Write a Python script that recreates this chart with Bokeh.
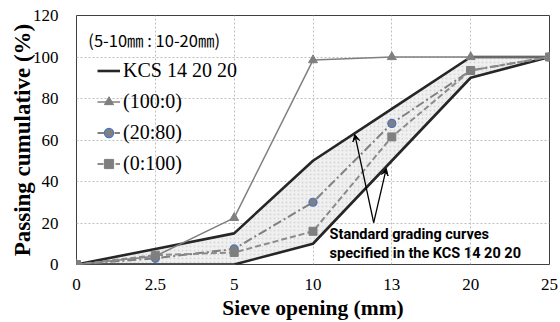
from bokeh.plotting import figure
from bokeh.models import Range1d, FixedTicker, Legend, LegendItem, Label, Arrow, VeeHead
from bokeh.embed import file_html
from bokeh.resources import INLINE

sieve = ["0", "2.5", "5", "10", "13", "20", "25"]
kcs_upper = [0, 7.5, 15, 50, 75, 100, 100]
kcs_lower = [0, 0, 0, 10, 50, 90, 100]
r100_0 = [0, 4, 22.5, 98.5, 100, 100, 100]
r20_80 = [0, 3, 7.5, 30, 68, 93.5, 100]
r0_100 = [0, 4.5, 5.8, 16, 61.5, 93.5, 100]
y_ticks = [0, 20, 40, 60, 80, 100, 120]

x = list(range(len(sieve)))

p = figure(width=560, height=322, output_backend="svg", toolbar_location=None,
           x_range=Range1d(0, len(sieve) - 1), y_range=Range1d(0, 120),
           min_border_left=76, min_border_right=11, min_border_top=15, min_border_bottom=57)

p.background_fill_color = "white"
p.outline_line_color = "#404040"
p.outline_line_width = 1

for ax in (p.xaxis[0], p.yaxis[0]):
    ax.axis_line_color = None
    ax.major_tick_line_color = None
    ax.minor_tick_line_color = None
    ax.major_label_text_font = "Liberation Serif"
    ax.major_label_text_font_size = "17px"
    ax.major_label_text_color = "black"
    ax.axis_label_text_font = "Liberation Serif"
    ax.axis_label_text_font_style = "bold"
    ax.axis_label_text_color = "black"

p.xaxis.ticker = FixedTicker(ticks=x)
p.xaxis.major_label_overrides = {i: s for i, s in zip(x, sieve)}
p.yaxis.ticker = FixedTicker(ticks=y_ticks)
p.xaxis.axis_label = "Sieve opening (mm)"
p.yaxis.axis_label = "Passing cumulative (%)"
p.xaxis.axis_label_text_font_size = "21.5px"
p.yaxis.axis_label_text_font_size = "23px"
p.xaxis.major_label_standoff = 8
p.yaxis.major_label_standoff = 12
p.xaxis.axis_label_standoff = 3
p.yaxis.axis_label_standoff = -5

for g in (p.xgrid[0], p.ygrid[0]):
    g.grid_line_color = "#bfbfbf"
    g.grid_line_dash = "2 2"
    g.grid_line_width = 1

# shaded band between standard curves
p.varea(x=x, y1=kcs_lower, y2=kcs_upper, fill_color="#f0f0f0", fill_alpha=1,
        hatch_pattern=".", hatch_color="#d8d8d8", hatch_scale=4)

r_kcs = p.line(x, kcs_upper, line_color="#262626", line_width=2.6)
p.line(x, kcs_lower, line_color="#262626", line_width=2.6)

l1 = p.line(x, r100_0, line_color="#7f7f7f", line_width=1.5)
m1 = p.scatter(x, r100_0, marker="triangle", size=9, fill_color="#7f7f7f", line_color="#7f7f7f")

l2 = p.line(x, r20_80, line_color="#808080", line_width=2, line_dash="9 3 2 3")
m2 = p.scatter(x, r20_80, marker="circle", size=8, fill_color="#808080", line_color="#4472c4", line_width=1.2)

l3 = p.line(x, r0_100, line_color="#8c8c8c", line_width=2, line_dash="6 3")
m3 = p.scatter(x, r0_100, marker="square", size=8, fill_color="#7f7f7f", line_color="#7f7f7f")

legend = Legend(items=[
    LegendItem(label="KCS 14 20 20", renderers=[r_kcs]),
    LegendItem(label="(100:0)", renderers=[l1, m1]),
    LegendItem(label="(20:80)", renderers=[l2, m2]),
    LegendItem(label="(0:100)", renderers=[l3, m3]),
], location=(21, 89), orientation="vertical")
legend.background_fill_alpha = 0
legend.border_line_color = None
legend.padding = 0
legend.margin = 0
legend.spacing = 8
legend.glyph_width = 23
legend.glyph_height = 23
legend.label_height = 23
legend.label_standoff = 3
legend.label_text_font = "Liberation Serif"
legend.label_text_font_size = "20px"
legend.label_text_color = "black"
p.add_layout(legend, "center")

p.add_layout(Label(x=0.15, y=108, text="(5-10㎜ : 10-20㎜)", text_font="Noto Sans CJK KR",
                   text_font_size="16.5px", text_color="black", text_baseline="middle"))

apex = (3.77, 20.2)
for tip in [(3.53, 62.7), (3.93, 46.3)]:
    p.add_layout(Arrow(x_start=apex[0], y_start=apex[1], x_end=tip[0], y_end=tip[1],
                       line_color="black", line_width=1.3,
                       end=VeeHead(size=7, line_color="black", fill_color="black", line_width=1)))

p.add_layout(Label(x=3.21, y=14.5, text="Standard grading curves", text_font="Roboto",
                   text_font_style="bold", text_font_size="14.5px", text_color="black",
                   text_baseline="middle"))
p.add_layout(Label(x=3.21, y=5.3, text="specified in the KCS 14 20 20", text_font="Roboto",
                   text_font_style="bold", text_font_size="14.5px", text_color="black",
                   text_baseline="middle"))

open("out.html", "w").write(file_html(p, INLINE))
